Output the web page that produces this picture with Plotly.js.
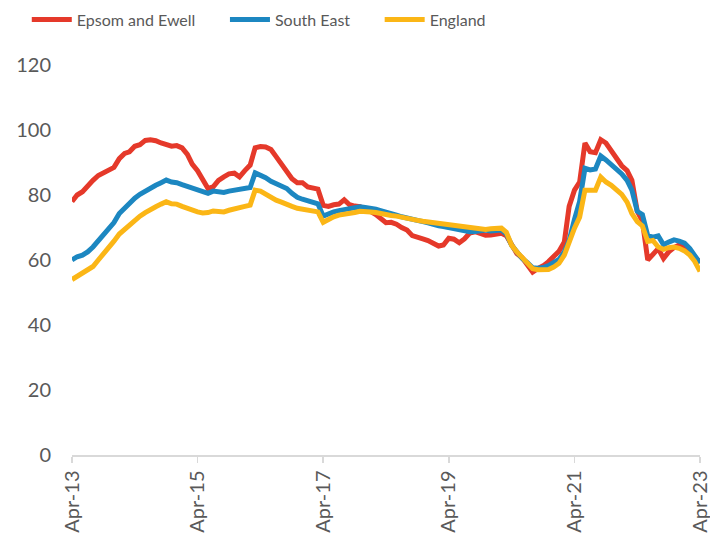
<!DOCTYPE html>
<html>
<head>
<meta charset="utf-8">
<script src="https://cdn.plot.ly/plotly-3.0.1.min.js"></script>
<style>
  html, body { margin: 0; padding: 0; background: #ffffff; }
  #chart { width: 710px; height: 533px; }
</style>
</head>
<body>
<div id="chart"></div>
<script>
// Monthly series, Apr-2013 .. Apr-2023 (121 months)
const startYear = 2013;
const startMonth = 4;
const monthCount = 121;

const seriesNames = ["Epsom and Ewell", "South East", "England"];

const epsomEwell = [
  78, 80, 81, 83, 84.5, 86, 86.8, 87.5, 88.5, 91.2,
  92.8, 93.3, 95, 95.5, 96.8, 97, 96.7, 96, 95.5, 95,
  95.2, 94.5, 92.5, 89.5, 87.5, 85, 82, 82.5, 84.5, 85.6,
  86.5, 86.7, 85.6, 87.5, 89.2, 94.5, 94.9, 94.8, 94, 91.8,
  89.5, 87, 85, 83.8, 83.8, 82.5, 82, 81.8, 76.8, 76.5,
  77, 77.2, 78.5, 77, 76.6, 76.4, 75.5, 75, 74, 73,
  71.5, 71.6, 71, 70, 69.2, 67.5, 66.8, 66.5, 66, 65.1,
  64.3, 64.6, 66.7, 66.4, 65.3, 66.5, 68.3, 68.7, 68.2, 67.6,
  67.7, 68, 68.2, 67.5, 64.5, 62, 60.7, 58.5, 56.3, 57.4,
  58.2, 59.5, 61.3, 62.7, 65.5, 76.5, 81.5, 84, 96, 93.3,
  93, 97, 96, 93.5, 91, 89, 87.5, 84.5, 75, 72,
  60, 62, 63.5, 60.5, 62.5, 63.8, 64.6, 64, 63, 61, 59.3
];

const southEast = [
  60, 61, 61.5, 62.5, 64, 65.8, 67.5, 69.5, 71.5, 74.3,
  76, 77.5, 79, 80.2, 81.3, 82.2, 83, 83.8, 84.6, 84,
  83.8, 83.2, 82.6, 82, 81.5, 81, 80.5, 81.2, 81, 80.8,
  81.2, 81.5, 81.7, 81.9, 82.3, 86.8, 86.2, 85.3, 84.2, 83.4,
  82.6, 82, 80.5, 79.3, 78.7, 78.2, 77.8, 77.3, 73.5, 74.2,
  74.8, 75.2, 75.5, 75.8, 76, 76.4, 76.2, 76, 75.6, 75.2,
  74.6, 74.2, 73.8, 73.3, 73, 72.6, 72.2, 71.8, 71.4, 70.8,
  70.5, 70.3, 70, 69.5, 69.1, 68.9, 68.7, 68.8, 69, 69.2,
  68.9, 69.1, 69.2, 68, 64.5, 62.5, 60.5, 59.2, 57.6, 57.5,
  57.7, 58.3, 59.2, 60.2, 62.5, 66, 72.5, 78, 88.2, 87.7,
  88, 92, 90.8, 89.5, 88, 86.5, 84.5, 81.5, 75, 74,
  67.5, 67, 67.4, 64.7, 65.5, 66.2, 65.8, 65.2, 63.5, 61.5, 59
];

const england = [
  54, 55, 55.8, 57, 58, 60, 61.8, 63.8, 65.8, 68,
  69.5, 70.8, 72.2, 73.5, 74.6, 75.6, 76.4, 77.2, 77.9, 77.3,
  77.2, 76.5, 75.8, 75.2, 74.8, 74.5, 74.6, 75.1, 74.8, 74.8,
  75.3, 75.6, 76, 76.5, 76.9, 81.5, 81.2, 80.2, 79.3, 78.4,
  77.8, 77.3, 76.5, 75.9, 75.7, 75.5, 75.2, 74.8, 71.6, 72.5,
  73.3, 73.8, 74, 74.3, 74.6, 75, 75, 74.8, 74.6, 74.2,
  74, 73.7, 73.5, 73.1, 72.8, 72.5, 72.2, 71.9, 71.7, 71.5,
  71.4, 71.3, 71.2, 70.8, 70.5, 70.2, 70, 69.8, 69.6, 69.4,
  69.6, 69.7, 69.8, 68.5, 64.5, 62.5, 60.7, 59.2, 57.3, 57,
  57, 57.1, 57.8, 59, 61.5, 65.8, 69.8, 73.2, 81.5, 81.5,
  81.5, 85.5, 84, 83, 81.8, 80.2, 77.8, 74.3, 71.8, 70.5,
  65.7, 66, 64, 63.3, 63.8, 64, 63.6, 62.8, 61.5, 59.6, 56.5
];

const tickDates = ["2013-04-01", "2015-04-01", "2017-04-01", "2019-04-01", "2021-04-01", "2023-04-01"];
const tickLabels = ["Apr-13", "Apr-15", "Apr-17", "Apr-19", "Apr-21", "Apr-23"];
const yTicks = [0, 20, 40, 60, 80, 100, 120];

const colors = ["#E5392A", "#1C87C1", "#FBB616"];

// Build month dates
const months = [];
for (let i = 0; i < monthCount; i++) {
  const m0 = startMonth - 1 + i;
  const y = startYear + Math.floor(m0 / 12);
  const m = (m0 % 12) + 1;
  months.push(y + "-" + String(m).padStart(2, "0") + "-01");
}

const pad = "\u00a0".repeat(6);
const series = [epsomEwell, southEast, england];
const traces = series.map((vals, k) => ({
  type: "scatter",
  mode: "lines",
  x: months,
  y: vals,
  name: seriesNames[k] + (k < 2 ? pad : ""),
  line: { color: colors[k], width: 5, shape: "linear" },
  hoverinfo: "x+y+name",
  cliponaxis: false
}));

const fontFam = "Lato, 'Open Sans', sans-serif";
const layout = {
  width: 710,
  height: 533,
  margin: { l: 72, r: 10, t: 65, b: 78, autoexpand: false },
  paper_bgcolor: "#ffffff",
  plot_bgcolor: "#ffffff",
  font: { family: fontFam, color: "#595959" },
  showlegend: true,
  legend: {
    orientation: "h",
    x: -0.072,
    xanchor: "left",
    y: 1.16,
    yanchor: "top",
    itemwidth: 40,
    font: { family: fontFam, size: 16, color: "#595959" },
    bgcolor: "rgba(0,0,0,0)"
  },
  xaxis: {
    type: "date",
    range: [tickDates[0], tickDates[tickDates.length - 1]],
    tickmode: "array",
    tickvals: tickDates,
    ticktext: tickLabels,
    tickangle: -90,
    ticklabeloverflow: "allow",
    tickfont: { family: fontFam, size: 20, color: "#595959" },
    ticks: "outside",
    ticklen: 6,
    tickwidth: 1.5,
    tickcolor: "#d9d9d9",
    showline: true,
    linecolor: "#d9d9d9",
    linewidth: 1.5,
    showgrid: false,
    zeroline: false
  },
  yaxis: {
    range: [0, 120],
    tickmode: "array",
    tickvals: yTicks,
    tickfont: { family: fontFam, size: 20, color: "#595959" },
    ticks: "outside",
    ticklen: 16,
    tickcolor: "rgba(0,0,0,0)",
    showline: false,
    showgrid: false,
    zeroline: false
  }
};

Plotly.newPlot("chart", traces, layout, { displayModeBar: false, staticPlot: true });
</script>
</body>
</html>
